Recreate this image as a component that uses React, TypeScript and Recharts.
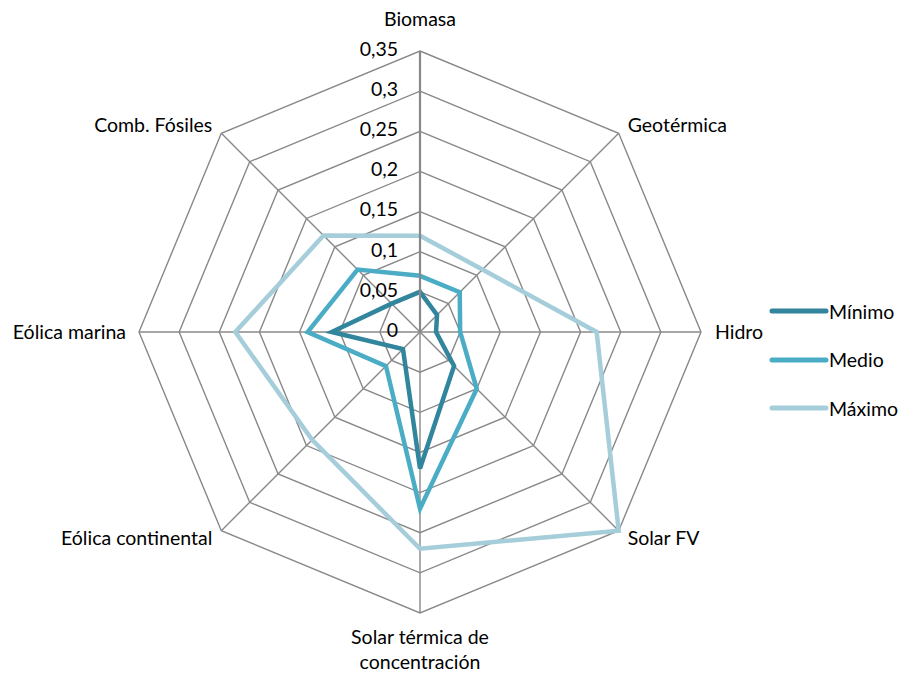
import { Legend, PolarAngleAxis, PolarGrid, PolarRadiusAxis, Radar, RadarChart } from "recharts"

const categories = [
  "Biomasa",
  "Geotérmica",
  "Hidro",
  "Solar FV",
  "Solar térmica de concentración",
  "Eólica continental",
  "Eólica marina",
  "Comb. Fósiles",
]
const minimo = [0.05, 0.03, 0.02, 0.06, 0.17, 0.03, 0.11, 0.05]
const medio = [0.07, 0.07, 0.05, 0.1, 0.22, 0.06, 0.14, 0.11]
const maximo = [0.12, 0.11, 0.22, 0.35, 0.27, 0.19, 0.23, 0.17]
const radiusTicks = [0, 0.05, 0.1, 0.15, 0.2, 0.25, 0.3, 0.35]

const series = [
  { key: "minimo", name: "Mínimo", color: "#31859C" },
  { key: "medio", name: "Medio", color: "#4BACC6" },
  { key: "maximo", name: "Máximo", color: "#A5CDDA" },
]

const data = categories.map((name, i) => ({
  name,
  minimo: minimo[i],
  medio: medio[i],
  maximo: maximo[i],
}))

const CX = 420
const CY = 332
const R = 281
const FONT = "Lato, sans-serif"
const FS = 19.5

function AngleTick(props: any) {
  const i = props.index as number
  const label = props.payload.value as string
  const a = ((90 - i * 45) * Math.PI) / 180
  const vx = CX + R * Math.cos(a)
  const vy = CY - R * Math.sin(a)
  const c = Math.cos(a)
  const s = Math.sin(a)
  let x = vx
  let y = vy
  let anchor = "middle"
  if (c > 0.01) {
    anchor = "start"
    x = vx + (Math.abs(s) > 0.01 ? 9 : 14)
  } else if (c < -0.01) {
    anchor = "end"
    x = vx - (Math.abs(s) > 0.01 ? 9 : 13)
  }
  if (Math.abs(c) <= 0.01) {
    y = s > 0 ? vy - 32 : vy + 24
  } else if (s > 0.01) {
    y = vy - 8
  } else if (s < -0.01) {
    y = vy + 7
  }
  if (label === "Solar térmica de concentración") {
    return (
      <text x={x} y={y} textAnchor="middle" fontSize={FS} fill="#000" fontFamily={FONT}>
        <tspan x={x} dy="0.35em">Solar térmica de</tspan>
        <tspan x={x} dy="1.28em">concentración</tspan>
      </text>
    )
  }
  return (
    <text x={x} y={y} dy="0.35em" textAnchor={anchor} fontSize={FS} fill="#000" fontFamily={FONT}>
      {label}
    </text>
  )
}

function RadiusTick(props: any) {
  const v = props.payload.value as number
  return (
    <text x={props.x - 22} y={props.y - 2} dy="0.35em" textAnchor="end" fontSize={FS} fill="#000" fontFamily={FONT}>
      {String(v).replace(".", ",")}
    </text>
  )
}

function LegendBox() {
  return (
    <div style={{ fontFamily: FONT, fontSize: FS, color: "#000" }}>
      {series.map((s, i) => (
        <div key={s.key} style={{ position: "absolute", left: 0, top: i * 48.5, display: "flex", alignItems: "center", height: 22 }}>
          <svg width={60} height={10}>
            <line x1={3} y1={5} x2={57} y2={5} stroke={s.color} strokeWidth={5} strokeLinecap="round" />
          </svg>
          <span>{s.name}</span>
        </div>
      ))}
    </div>
  )
}

export default function App() {
  return (
    <div style={{ position: "relative", width: 901, height: 673, background: "#fff" }}>
      <style>{"body{margin:0}"}</style>
      <RadarChart width={901} height={673} data={data} cx={CX} cy={CY} outerRadius={R} margin={{ top: 0, right: 0, bottom: 0, left: 0 }}>
        <PolarGrid gridType="polygon" stroke="#888" strokeWidth={1.4} />
        <PolarAngleAxis dataKey="name" tick={<AngleTick />} tickLine={false} axisLine={false} />
        <PolarRadiusAxis
          type="number"
          angle={90}
          domain={[0, 0.35]}
          ticks={radiusTicks}
          tickCount={8}
          tick={<RadiusTick />}
          tickLine={false}
          axisLine={{ stroke: "#888", strokeWidth: 2.2 }}
        />
        {series.map((s) => (
          <Radar
            key={s.key}
            dataKey={s.key}
            name={s.name}
            stroke={s.color}
            strokeWidth={4.5}
            fill="none"
            fillOpacity={0}
            dot={false}
            isAnimationActive={false}
          />
        ))}
        <Legend content={<LegendBox />} wrapperStyle={{ position: "absolute", left: 769, top: 300, width: 132 }} />
      </RadarChart>
    </div>
  )
}
